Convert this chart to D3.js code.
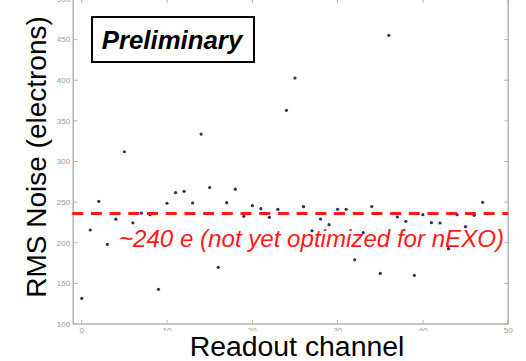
<!DOCTYPE html>
<html>
<head>
<meta charset="utf-8">
<script src="https://cdn.jsdelivr.net/npm/d3@7"></script>
<style>
  html, body { margin: 0; padding: 0; background: #fff; }
  svg { display: block; font-family: "Liberation Sans", Arial, sans-serif; }
</style>
</head>
<body>
<svg id="chart" width="526" height="361"></svg>
<script>
// Readout channel index
const channels = [0, 1, 2, 3, 4, 5, 6, 7, 8, 9, 10, 11, 12, 13, 14, 15, 16, 17, 18, 19,
  20, 21, 22, 23, 24, 25, 26, 27, 28, 29, 30, 31, 32, 33, 34, 35, 36, 37, 38, 39,
  40, 41, 42, 43, 44, 45, 46, 47];
// RMS noise per channel (electrons)
const rmsNoise = [131.6, 215.7, 251, 198, 229, 312, 224.5, 236.5, 234.5, 142.7,
  248.6, 261.8, 263.3, 249, 333.8, 268, 169.8, 249.3, 266, 232.5,
  245.6, 242, 231.3, 241.1, 363, 402.8, 244.4, 214.8, 229.2, 222.2,
  241.1, 241.1, 179, 212.4, 244.6, 162.2, 455.3, 231.7, 226.4, 159.9,
  234.5, 224.7, 224.3, 192.7, 234.5, 219.8, 233.8, 249.8];
const yTicks = [100, 150, 200, 250, 300, 350, 400, 450, 500];
const xTicks = [0, 10, 20, 30, 40, 50];
const typicalNoise = 236;
const noiseLabel = "~240 e (not yet optimized for nEXO)";

const svg = d3.select("#chart");
const plotLeft = 73.2, plotRight = 508.2, plotTop = -1, plotBottom = 324;

const x = d3.scaleLinear().domain([-1, 50]).range([plotLeft, plotRight]);
const y = d3.scaleLinear().domain([100, 500]).range([plotBottom, plotTop]);

const frameColor = "#b3b3b3";

// inward ticks on all four sides
const ticksG = svg.append("g");
yTicks.forEach(t => {
  ticksG.append("line").attr("x1", plotLeft).attr("x2", plotLeft + 4)
    .attr("y1", y(t)).attr("y2", y(t)).attr("stroke", frameColor).attr("stroke-width", 1);
  ticksG.append("line").attr("x1", plotRight - 4).attr("x2", plotRight)
    .attr("y1", y(t)).attr("y2", y(t)).attr("stroke", frameColor).attr("stroke-width", 1);
});
xTicks.forEach(t => {
  ticksG.append("line").attr("x1", x(t)).attr("x2", x(t))
    .attr("y1", plotBottom).attr("y2", plotBottom - 4).attr("stroke", frameColor).attr("stroke-width", 1);
  ticksG.append("line").attr("x1", x(t)).attr("x2", x(t))
    .attr("y1", plotTop).attr("y2", plotTop + 4).attr("stroke", frameColor).attr("stroke-width", 1);
});

// frame
svg.append("rect")
  .attr("x", plotLeft).attr("y", plotTop)
  .attr("width", plotRight - plotLeft).attr("height", plotBottom - plotTop)
  .attr("fill", "none").attr("stroke", frameColor).attr("stroke-width", 1.5);

// tick labels
svg.append("g").selectAll("text").data(yTicks).join("text")
  .attr("x", plotLeft - 3).attr("y", d => y(d)).attr("dy", "0.35em")
  .attr("text-anchor", "end").attr("font-size", 8).attr("fill", "#9a9a9a")
  .text(d => d);
svg.append("g").selectAll("text").data(xTicks).join("text")
  .attr("x", d => x(d)).attr("y", plotBottom + 9)
  .attr("text-anchor", "middle").attr("font-size", 8).attr("fill", "#9a9a9a")
  .text(d => d);

// data points
svg.append("g").selectAll("circle").data(channels).join("circle")
  .attr("cx", (d) => x(d))
  .attr("cy", (d, i) => y(rmsNoise[i]))
  .attr("r", 1.6)
  .attr("fill", "#2e2e66");

// typical noise level
svg.append("line")
  .attr("x1", plotLeft - 1).attr("x2", plotRight)
  .attr("y1", y(typicalNoise)).attr("y2", y(typicalNoise))
  .attr("stroke", "#ff1a1a").attr("stroke-width", 3)
  .attr("stroke-dasharray", "11,7.7");

svg.append("text")
  .attr("x", 119).attr("y", 247)
  .attr("font-size", 24.1).attr("font-style", "italic").attr("fill", "#ff1a1a")
  .text(noiseLabel);

// "Preliminary" stamp
svg.append("rect")
  .attr("x", 92).attr("y", 17).attr("width", 162).attr("height", 45)
  .attr("fill", "#fff").attr("stroke", "#000").attr("stroke-width", 2);
svg.append("text")
  .attr("x", 172).attr("y", 48.5).attr("text-anchor", "middle")
  .attr("font-size", 25.8).attr("font-weight", "bold").attr("font-style", "italic")
  .attr("fill", "#000")
  .text("Preliminary");

// axis titles
svg.append("rect")
  .attr("x", 88).attr("y", 331).attr("width", 405).attr("height", 30).attr("fill", "#fff");
svg.append("text")
  .attr("x", 297).attr("y", 355.5).attr("text-anchor", "middle")
  .attr("font-size", 28.4).attr("fill", "#000")
  .text("Readout channel");
svg.append("text")
  .attr("transform", "translate(46,157) rotate(-90)")
  .attr("text-anchor", "middle")
  .attr("font-size", 28).attr("fill", "#000")
  .text("RMS Noise (electrons)");
</script>
</body>
</html>
